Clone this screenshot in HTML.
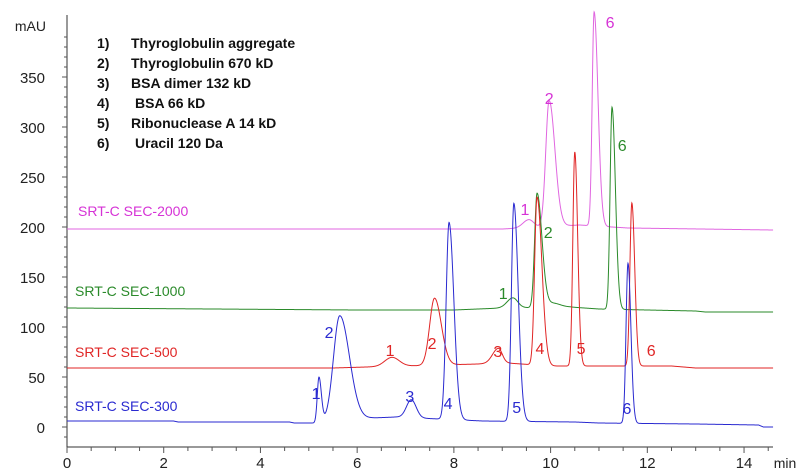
<!DOCTYPE html>
<html><head><meta charset="utf-8"><style>
html,body{margin:0;padding:0;background:#fff;}
svg{display:block;font-family:"Liberation Sans",sans-serif;}
</style></head><body>
<svg id="chart" width="800" height="472" viewBox="0 0 800 472" xmlns="http://www.w3.org/2000/svg">
<g id="axes"></g>
<g id="traces"></g>
<g id="labels"></g>
<g font-weight="bold" font-size="14" fill="#111">
<text x="97" y="48">1)</text><text x="131" y="48">Thyroglobulin aggregate</text>
<text x="97" y="68">2)</text><text x="131" y="68">Thyroglobulin 670 kD</text>
<text x="97" y="88">3)</text><text x="131" y="88">BSA dimer 132 kD</text>
<text x="97" y="108">4)</text><text x="135" y="108">BSA 66 kD</text>
<text x="97" y="128">5)</text><text x="131" y="128">Ribonuclease A 14 kD</text>
<text x="97" y="148">6)</text><text x="135" y="148">Uracil 120 Da</text>
</g>
<g font-size="14">
<text x="78" y="216" fill="#d633d6">SRT-C SEC-2000</text>
<text x="75" y="296" fill="#2a8a2a">SRT-C  SEC-1000</text>
<text x="75" y="357" fill="#e02525">SRT-C SEC-500</text>
<text x="75" y="411" fill="#2a2ad0">SRT-C SEC-300</text>
</g>
</svg>
<script>
// Data
const xTicks = [0,2,4,6,8,10,12,14];
const yTicks = [0,50,100,150,200,250,300,350];
// peaks: [time, height, sigmaLeft, sigmaRight]
const peaks300 = [[5.21,45,0.035,0.05],[5.64,105,0.13,0.2],[7.12,18,0.1,0.1],[7.9,197,0.06,0.1],[9.24,218,0.05,0.09],[11.6,160,0.04,0.06]];
const peaks500 = [[6.72,9,0.15,0.15],[7.6,67,0.1,0.14],[8.92,15,0.12,0.08],[9.72,168,0.05,0.1],[10.5,214,0.04,0.06],[11.68,163,0.04,0.06]];
const peaks1000 = [[9.22,10,0.12,0.1],[9.72,114,0.05,0.1],[10.05,4,0.15,0.15],[11.27,202,0.04,0.07]];
const peaks2000 = [[9.55,8,0.12,0.1],[9.97,126,0.07,0.12],[10.9,214,0.04,0.08]];
// baselines: [time, value]
const base300 = [[0,6],[2.2,6],[2.3,5],[4.6,5],[4.7,4],[5.1,4],[6.3,9],[6.8,10],[8.6,6],[10.5,5],[11,4],[13,3],[14.3,2],[14.4,0],[14.6,0]];
const base500 = [[0,59],[5.5,59],[6.2,60],[7,61],[8.5,63],[9.1,64],[10,61],[12.5,61],[13,59],[14.6,59]];
const base1000 = [[0,119],[6,117],[8,117],[9,119],[10.4,120],[11,118],[13,116],[13.2,115],[14.6,115]];
const base2000 = [[0,198],[9,198],[10.6,202],[11.6,199],[14.6,197]];
// labels: [text, time, value]
const lab300 = [["1",5.15,34],["2",5.42,95],["3",7.09,31],["4",7.88,24],["5",9.3,20],["6",11.58,19]];
const lab500 = [["1",6.68,77],["2",7.55,84],["3",8.91,76],["4",9.78,79],["5",10.63,79],["6",12.08,77]];
const lab1000 = [["1",9.02,134],["2",9.95,195],["6",11.48,282]];
const lab2000 = [["1",9.47,218],["2",9.97,329],["6",11.23,405]];

const X0=67, XS=48.36, Y0=427, YS=1.0;
const x = t => X0 + t*XS;
const y = v => Y0 - v*YS;
const NS="http://www.w3.org/2000/svg";
function mk(tag, attrs, parent){const e=document.createElementNS(NS,tag);for(const k in attrs)e.setAttribute(k,attrs[k]);parent.appendChild(e);return e;}

const axes=document.getElementById('axes');
const ax1=mk('line',{x1:x(0),y1:15,x2:x(0),y2:447,stroke:'#333','stroke-width':1},axes);


const ax2=mk('line',{x1:x(0),y1:447,x2:773,y2:447,stroke:'#333','stroke-width':1},axes);


for(let v=-10;v<=390;v+=10){
  const major = v%50===0;
  mk('line',{x1:x(0)-(major?5:3),y1:y(v),x2:x(0),y2:y(v),stroke:'#555','stroke-width':1},axes);
}
yTicks.forEach(v=>{
  const t=mk('text',{x:45,y:y(v)+6,'text-anchor':'end','font-size':15,fill:'#222'},axes);
  t.textContent=v;
  
  
});
const mau=mk('text',{x:46,y:31,'text-anchor':'end','font-size':14,fill:'#222'},axes);
mau.textContent='mAU';


for(let t=0;t<=14.5;t+=0.5){
  const major = Math.abs(t%2)<1e-6;
  mk('line',{x1:x(t),y1:447,x2:x(t),y2:447+(major?6:4),stroke:'#555','stroke-width':1},axes);
}
xTicks.forEach(t=>{
  const e=mk('text',{x:x(t),y:468,'text-anchor':'middle','font-size':15,fill:'#222'},axes);
  e.textContent=t;
  
  
});
const mn=mk('text',{x:785,y:468,'text-anchor':'middle','font-size':14,fill:'#222'},axes);
mn.textContent='min';



function baseAt(b,t){for(let i=0;i<b.length-1;i++){if(t>=b[i][0]&&t<=b[i+1][0]){const f=(t-b[i][0])/(b[i+1][0]-b[i][0]||1);return b[i][1]+f*(b[i+1][1]-b[i][1]);}}return b[b.length-1][1];}
function val(peaks,b,t){let v=baseAt(b,t);peaks.forEach(p=>{const s=t<p[0]?p[2]:p[3];v+=p[1]*Math.exp(-((t-p[0])**2)/(2*s*s));});return v;}
const traces=document.getElementById('traces');
const series=[["trace-sec-2000",peaks2000,base2000,"#e066e0"],["trace-sec-1000",peaks1000,base1000,"#2a8a2a"],["trace-sec-500",peaks500,base500,"#e02525"],["trace-sec-300",peaks300,base300,"#2a2ad0"]];
series.forEach(s=>{
  let d='';
  for(let t=0;t<=14.6001;t+=0.005){d+=(d?'L':'M')+x(t).toFixed(2)+','+y(val(s[1],s[2],t)).toFixed(2);}
  const p=mk('path',{d:d,fill:'none',stroke:s[3],'stroke-width':1},traces);
  
  
});
const labels=document.getElementById('labels');
[[lab300,"#2a2ad0"],[lab500,"#e02525"],[lab1000,"#2a8a2a"],[lab2000,"#d633d6"]].forEach(g=>{
  g[0].forEach(l=>{
    const e=mk('text',{x:x(l[1]),y:y(l[2])+6,'text-anchor':'middle','font-size':16,fill:g[1]},labels);
    e.textContent=l[0];
    
    
  });
});
</script>
</body></html>
